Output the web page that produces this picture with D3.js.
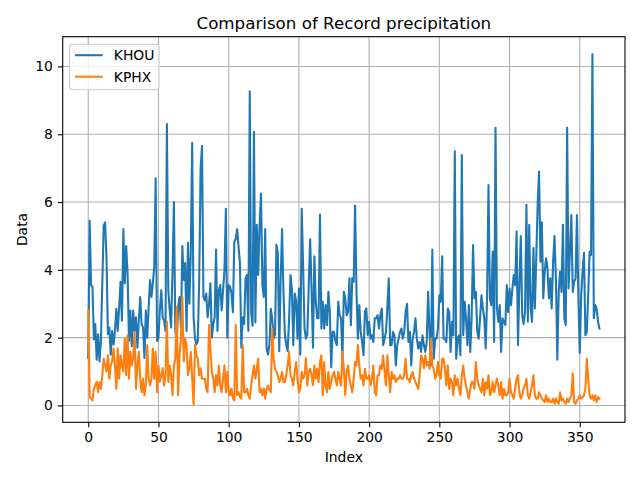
<!doctype html>
<html>
  <head>
    <meta charset="utf-8">
    <title>Comparison of Record precipitation</title>
    <script src="https://cdnjs.cloudflare.com/ajax/libs/d3/7.8.5/d3.min.js"></script>
    <style>
      body { margin: 0; background: #fff; }
      svg text { font-family: "DejaVu Sans", sans-serif; fill: #000; }
    </style>
  </head>
  <body>
    <div id="chart"></div>

    <script>
      // data, one value per day index
      const seriesNames = ['KHOU', 'KPHX'];

      const khou = [
        1.4, 5.45, 3.55, 3.5, 1.95, 2.4, 1.35, 2.1, 1.3, 1.9,
        3.6, 5.3, 5.4, 4.35, 2.1, 2.3, 1.5, 2.2, 1.8, 2.2,
        2.85, 2.2, 2.9, 3.65, 2.5, 5.2, 3.6, 4.7, 3.9, 1.9,
        2.8, 1.75, 2.8, 2.2, 2.6, 1.7, 2.5, 3.2, 2.4, 2.3,
        1.4, 2.8, 2.0, 2.9, 3.7, 3.2, 3.6, 4.1, 6.7, 1.9,
        2.0, 2.8, 3.4, 2.6, 2.5, 2.2, 8.3, 3.4, 2.8, 2.3,
        4.0, 6.0, 2.2, 1.9, 2.9, 3.2, 2.3, 4.7, 3.7, 4.2,
        2.2, 4.8, 3.0, 4.5, 7.75, 2.6, 2.0, 1.8, 1.9, 3.7,
        7.0, 7.65, 3.2, 3.1, 3.3, 2.6, 3.0, 3.6, 2.0, 2.4,
        2.6, 4.6, 2.2, 3.4, 3.55, 2.8, 3.4, 4.0, 5.8, 2.0,
        3.55, 3.5, 3.3, 2.75, 4.84, 4.9, 5.2, 4.7, 4.2, 1.7,
        2.6, 2.4, 3.75, 3.85, 2.2, 9.27, 2.75, 2.35, 8.07, 2.45,
        5.33, 3.85, 5.3, 6.25, 3.55, 3.2, 5.2, 1.68, 1.5, 1.8,
        2.85, 2.55, 1.97, 2.1, 4.74, 4.5, 1.6, 3.75, 5.2, 3.35,
        2.1, 1.78, 1.6, 2.55, 3.85, 3.45, 1.78, 3.3, 3.1, 1.97,
        3.45, 1.5, 5.8, 4.1, 2.27, 1.97, 2.1, 3.55, 4.9, 3.45,
        1.7, 4.4, 3.06, 2.57, 2.57, 5.63, 2.27, 3.06, 2.27, 2.96,
        2.37, 3.35, 2.76, 1.13, 2.17, 2.17, 1.9, 1.78, 3.06, 2.66,
        2.57, 1.38, 3.35, 3.16, 2.66, 2.76, 3.75, 2.37, 3.75, 3.65,
        5.9, 3.35, 1.97, 2.96, 2.17, 1.87, 1.48, 2.76, 2.86, 2.07,
        2.47, 1.97, 2.07, 1.87, 2.57, 2.57, 2.66, 2.27, 2.66, 2.86,
        1.78, 1.97, 2.17, 2.9, 3.75, 1.78, 1.78, 2.17, 2.07, 1.18,
        1.78, 1.97, 2.17, 2.27, 1.97, 2.17, 2.76, 3.0, 1.87, 2.17,
        1.18, 1.97, 2.17, 2.57, 1.97, 1.68, 1.87, 1.58, 2.07, 1.78,
        1.58, 1.87, 3.35, 2.17, 1.18, 4.6, 1.38, 1.97, 1.97, 2.27,
        3.25, 3.06, 4.4, 1.97, 1.97, 1.87, 2.86, 2.76, 1.58, 2.47,
        2.07, 7.5, 1.38, 1.97, 2.07, 1.48, 7.39, 2.07, 3.06, 2.57,
        1.78, 2.96, 1.58, 2.57, 4.73, 3.16, 3.35, 2.17, 1.97, 2.57,
        3.25, 2.86, 2.57, 1.68, 3.16, 6.5, 3.16, 2.96, 4.54, 1.87,
        8.19, 2.86, 2.47, 2.96, 1.58, 2.57, 2.47, 2.37, 3.55, 2.76,
        3.45, 2.96, 3.45, 3.85, 3.55, 5.13, 1.78, 3.55, 5.0, 2.66,
        2.4, 2.76, 5.92, 2.47, 5.33, 2.86, 2.47, 4.64, 2.86, 4.34,
        5.92, 6.9, 4.24, 5.4, 3.16, 3.94, 4.34, 4.04, 3.16, 3.75,
        2.86, 4.24, 5.0, 3.75, 1.35, 3.35, 3.94, 3.35, 5.33, 2.57,
        2.37, 8.2, 3.45, 4.54, 5.62, 3.35, 3.65, 3.75, 5.62, 3.16,
        1.55, 3.25, 3.94, 4.5, 2.07, 2.17, 3.25, 4.54, 4.44, 10.36,
        2.57, 2.96, 2.86, 2.47, 2.27
      ];

      const kphx = [
        2.8, 0.25, 0.2, 0.15, 0.49, 0.59, 0.7, 0.39, 0.69, 0.49,
        0.89, 1.38, 1.18, 1.0, 1.48, 0.79, 1.18, 1.3, 1.68, 1.18,
        0.49, 1.68, 0.79, 1.48, 1.18, 1.0, 1.97, 0.89, 2.07, 0.79,
        1.58, 1.18, 1.4, 2.17, 0.49, 1.18, 1.58, 0.79, 0.39, 0.79,
        0.3, 0.6, 1.78, 0.79, 0.6, 0.79, 1.68, 0.79, 1.58, 0.39,
        1.18, 0.7, 0.89, 1.1, 0.59, 0.89, 2.47, 0.69, 1.18, 0.9,
        0.3, 1.18, 1.38, 2.9, 0.3, 1.48, 1.97, 3.2, 1.3, 1.97,
        1.78, 0.89, 1.1, 1.58, 0.8, 0.02, 1.78, 1.48, 1.38, 0.89,
        1.1, 0.79, 0.79, 0.79, 0.5, 0.39, 2.37, 1.68, 1.0, 0.79,
        0.39, 0.89, 0.59, 1.18, 0.59, 0.39, 0.8, 1.18, 0.39, 0.99,
        0.39, 0.3, 0.5, 0.2, 0.15, 2.37, 0.3, 0.39, 0.25, 0.2,
        1.78, 0.39, 0.39, 0.49, 0.3, 0.2, 0.59, 0.9, 1.18, 0.79,
        1.08, 1.38, 0.39, 0.49, 0.3, 0.5, 0.2, 0.49, 0.59, 0.45,
        0.39, 2.27, 1.38, 1.08, 0.99, 0.89, 0.69, 0.8, 0.99, 0.69,
        0.69, 0.9, 1.18, 1.58, 0.89, 0.79, 0.59, 1.0, 1.28, 0.79,
        0.39, 0.49, 0.99, 0.79, 0.89, 1.4, 0.59, 0.99, 1.08, 0.89,
        0.6, 1.18, 0.79, 1.08, 0.69, 1.28, 1.48, 0.3, 1.28, 0.59,
        0.39, 0.99, 0.49, 0.7, 0.89, 0.99, 0.79, 0.59, 0.99, 0.79,
        0.59, 1.58, 1.08, 0.3, 0.99, 1.18, 0.79, 0.59, 0.39, 0.79,
        1.28, 1.18, 1.78, 1.18, 0.79, 0.89, 0.59, 1.08, 0.79, 0.79,
        0.89, 0.59, 0.79, 1.18, 0.39, 0.3, 0.89, 0.89, 1.18, 1.08,
        1.48, 1.0, 0.59, 1.48, 0.89, 0.39, 0.99, 0.79, 0.89, 0.69,
        0.79, 0.79, 0.89, 0.79, 0.79, 0.9, 1.38, 0.79, 0.79, 0.69,
        0.89, 0.99, 0.79, 0.69, 0.59, 0.49, 0.89, 1.48, 1.38, 1.1,
        1.48, 1.18, 1.28, 1.08, 1.97, 1.18, 1.08, 0.79, 0.89, 1.28,
        0.89, 0.79, 1.38, 1.38, 1.08, 0.59, 1.18, 0.49, 0.79, 0.69,
        0.3, 0.89, 0.59, 0.79, 0.5, 0.3, 0.89, 1.18, 0.79, 0.59,
        0.4, 0.2, 0.49, 0.69, 0.69, 0.49, 1.28, 0.79, 0.6, 0.49,
        0.39, 0.79, 0.3, 0.69, 0.5, 0.89, 0.3, 0.39, 0.69, 0.39,
        0.6, 0.79, 0.59, 0.3, 0.69, 0.2, 0.49, 0.3, 0.3, 0.39,
        0.79, 0.39, 0.3, 0.2, 0.5, 0.79, 0.89, 0.39, 0.2, 0.3,
        0.49, 0.6, 0.79, 0.3, 0.2, 0.39, 0.6, 0.89, 0.3, 0.2,
        0.2, 0.39, 0.3, 0.2, 0.15, 0.1, 0.3, 0.1, 0.2, 0.1,
        0.1, 0.2, 0.05, 0.2, 0.1, 0.05, 0.39, 0.15, 0.2, 0.1,
        0.05, 0.2, 0.1, 0.2, 0.3, 0.95, 0.1, 0.05, 0.15, 0.2,
        0.3, 0.2, 0.25, 0.3, 0.49, 1.38, 0.79, 0.3, 0.2, 0.3,
        0.15, 0.3, 0.1, 0.25, 0.2
      ];

      const xTicks = [0, 50, 100, 150, 200, 250, 300, 350];
      const yTicks = [0, 2, 4, 6, 8, 10];

      // figure and axes box (matplotlib-like, tight layout)
      const width = 640, height = 480;
      const margin = {top: 36.7, right: 15, bottom: 57.7, left: 62.7};
      const colors = ['#1f77b4', '#ff7f0e'];
      const allSeries = [khou, kphx];

      const svg = d3.select('#chart')
        .append('svg')
        .attr('width', width)
        .attr('height', height);

      // scales with 5% padding like matplotlib autoscale
      const n = khou.length;
      const xPad = (n - 1) * 0.05;
      const x = d3.scaleLinear()
        .domain([-xPad, n - 1 + xPad])
        .range([margin.left, width - margin.right]);

      const yMin = d3.min(allSeries, s => d3.min(s));
      const yMax = d3.max(allSeries, s => d3.max(s));
      const yPad = (yMax - yMin) * 0.05;
      const y = d3.scaleLinear()
        .domain([yMin - yPad, yMax + yPad])
        .range([height - margin.bottom, margin.top]);

      // grid
      svg.append('g')
        .selectAll('line')
        .data(xTicks)
        .join('line')
          .attr('x1', d => x(d)).attr('x2', d => x(d))
          .attr('y1', margin.top).attr('y2', height - margin.bottom)
          .attr('stroke', '#b0b0b0').attr('stroke-width', 1.1);

      svg.append('g')
        .selectAll('line')
        .data(yTicks)
        .join('line')
          .attr('x1', margin.left).attr('x2', width - margin.right)
          .attr('y1', d => y(d)).attr('y2', d => y(d))
          .attr('stroke', '#b0b0b0').attr('stroke-width', 1.1);

      // lines
      svg.append('clipPath').attr('id', 'plotclip')
        .append('rect')
        .attr('x', margin.left).attr('y', margin.top)
        .attr('width', width - margin.left - margin.right)
        .attr('height', height - margin.top - margin.bottom);

      const line = d3.line()
        .x((d, i) => x(i))
        .y(d => y(d));

      svg.append('g')
        .attr('clip-path', 'url(#plotclip)')
        .selectAll('path')
        .data(allSeries)
        .join('path')
          .attr('d', d => line(d))
          .attr('fill', 'none')
          .attr('stroke', (d, i) => colors[i])
          .attr('stroke-width', 2.08)
          .attr('stroke-linejoin', 'round')
          .attr('stroke-linecap', 'square');

      // axes
      const xAxis = svg.append('g')
        .attr('transform', `translate(0,${height - margin.bottom})`)
        .call(d3.axisBottom(x).tickValues(xTicks).tickSize(4.9).tickPadding(4.9).tickFormat(d3.format('d')));

      const yAxis = svg.append('g')
        .attr('transform', `translate(${margin.left},0)`)
        .call(d3.axisLeft(y).tickValues(yTicks).tickSize(4.9).tickPadding(4.9).tickFormat(d3.format('d')));

      [xAxis, yAxis].forEach(g => {
        g.select('.domain').remove();
        g.selectAll('.tick line').attr('stroke', '#000').attr('stroke-width', 1.1);
        g.selectAll('.tick text')
          .style('font-family', '"DejaVu Sans", sans-serif')
          .style('font-size', '13.9px')
          .attr('fill', '#000');
      });

      // frame
      svg.append('rect')
        .attr('x', margin.left).attr('y', margin.top)
        .attr('width', width - margin.left - margin.right)
        .attr('height', height - margin.top - margin.bottom)
        .attr('fill', 'none')
        .attr('stroke', '#000')
        .attr('stroke-width', 1.1);

      // labels
      svg.append('text')
        .attr('x', (margin.left + width - margin.right) / 2)
        .attr('y', 28.5)
        .attr('text-anchor', 'middle')
        .style('font-size', '16.7px')
        .text('Comparison of Record precipitation');

      svg.append('text')
        .attr('x', (margin.left + width - margin.right) / 2)
        .attr('y', 462)
        .attr('text-anchor', 'middle')
        .style('font-size', '13.9px')
        .text('Index');

      svg.append('text')
        .attr('transform', `translate(27,${(margin.top + height - margin.bottom) / 2}) rotate(-90)`)
        .attr('text-anchor', 'middle')
        .style('font-size', '13.9px')
        .text('Data');

      // legend
      const legend = svg.append('g');
      legend.append('rect')
        .attr('x', 69.5).attr('y', 44.3)
        .attr('width', 89.5).attr('height', 45.5)
        .attr('rx', 3)
        .attr('fill', '#fff').attr('fill-opacity', 0.8)
        .attr('stroke', '#cccccc').attr('stroke-width', 1.1);

      const items = legend.selectAll('g.item')
        .data(seriesNames)
        .join('g')
          .attr('class', 'item')
          .attr('transform', (d, i) => `translate(0,${55.2 + i * 21.5})`);

      items.append('line')
        .attr('x1', 75).attr('x2', 102.7)
        .attr('stroke', (d, i) => colors[i])
        .attr('stroke-width', 2.08);

      items.append('text')
        .attr('x', 113.8)
        .attr('y', 5)
        .style('font-size', '13.9px')
        .text(d => d);
    </script>
  </body>
</html>
